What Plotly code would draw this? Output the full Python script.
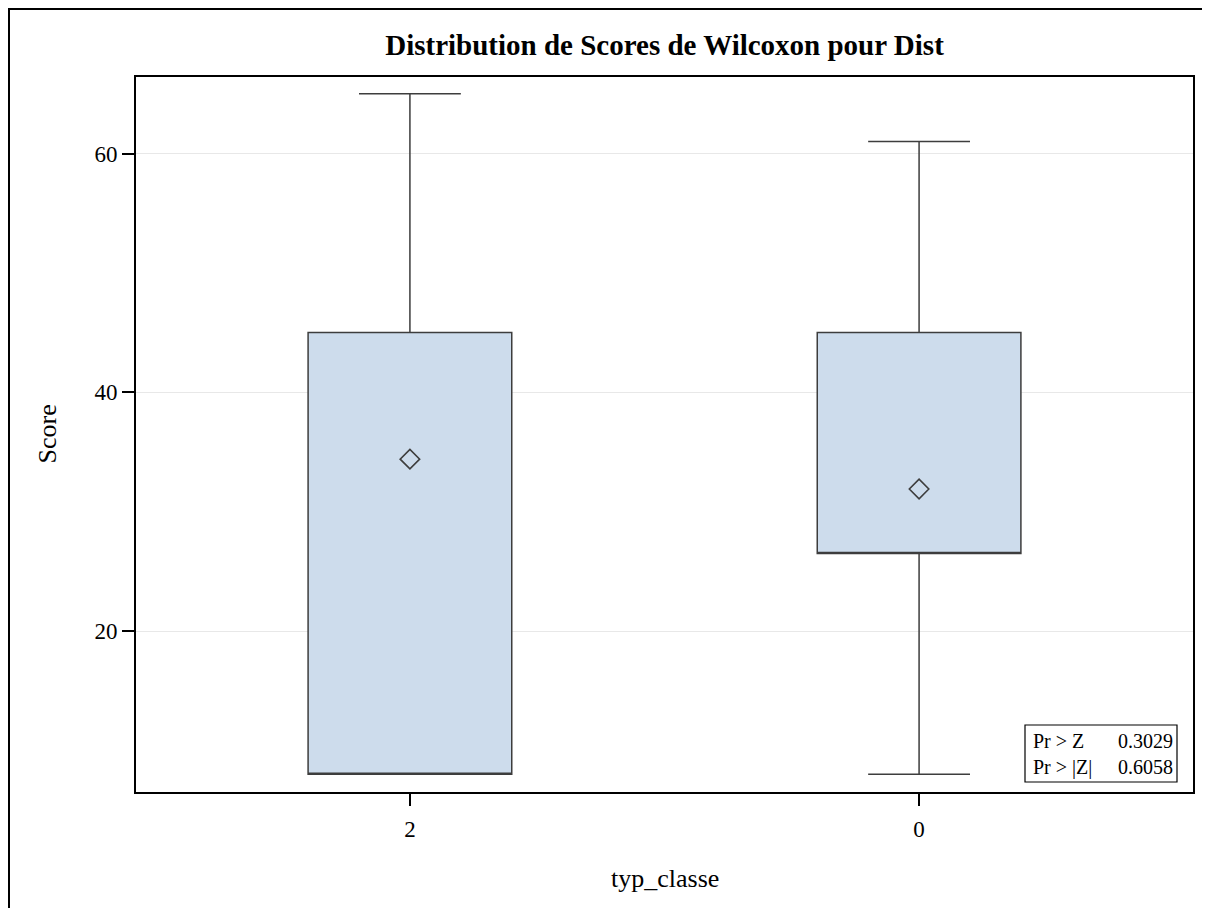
import plotly.graph_objects as go

# Data
categories = ["2", "0"]
cat_pos = [0, 1]
q1 = [8, 26.5]
median = [8, 26.5]
q3 = [45, 45]
lower_whisker = [8, 8]
upper_whisker = [65, 61]
means = [34.4, 31.9]
stat_labels = ["Pr > Z", "Pr > |Z|"]
stat_values = ["0.3029", "0.6058"]
y_ticks = [20, 40, 60]

FONT = "Liberation Serif"
LINE = "#3d3d3d"
FILL = "#cddcec"

# page offset of the plotly div (body margin)
OFF = 8
PL, PR, PT, PB = 136, 1193, 77, 792          # plot area on the page
W, H = PR - PL, PB - PT


def px(x):
    return (x - PL) / W


def py(y):
    return (PB - y) / H


fig = go.Figure()
fig.add_trace(go.Box(
    x=cat_pos, q1=q1, median=median, q3=q3,
    lowerfence=lower_whisker, upperfence=upper_whisker,
    width=0.4, whiskerwidth=0.5,
    fillcolor=FILL, line=dict(color=LINE, width=1.5),
    boxpoints=False, showlegend=False, hoverinfo="skip",
))
fig.add_trace(go.Scatter(
    x=cat_pos, y=means, mode="markers",
    marker=dict(symbol="diamond-open", size=15, color=LINE, line=dict(width=1.6, color=LINE)),
    showlegend=False, hoverinfo="skip",
))

# Outer frame
fig.add_shape(type="rect", xref="paper", yref="paper",
              x0=px(9), x1=px(1218), y0=py(925), y1=py(9),
              line=dict(color="black", width=2), layer="below")

# Inset stats box
fig.add_shape(type="rect", xref="paper", yref="paper",
              x0=px(1025), x1=px(1177), y0=py(782), y1=py(725),
              line=dict(color="black", width=1.2), fillcolor="white")
fig.add_annotation(xref="paper", yref="paper", x=px(1031), y=py(754),
                   text="<br>".join(stat_labels), align="left",
                   showarrow=False, xanchor="left", yanchor="middle",
                   font=dict(family=FONT, size=20, color="black"))
fig.add_annotation(xref="paper", yref="paper", x=px(1175), y=py(754),
                   text="<br>".join(stat_values), align="right",
                   showarrow=False, xanchor="right", yanchor="middle",
                   font=dict(family=FONT, size=20, color="black"))

# Axis titles
fig.add_annotation(xref="paper", yref="paper", x=px(47), y=0.5, text="Score",
                   textangle=-90, showarrow=False, xanchor="center", yanchor="middle",
                   font=dict(family=FONT, size=26, color="black"))
fig.add_annotation(xref="paper", yref="paper", x=0.5, y=py(878), text="typ_classe",
                   showarrow=False, xanchor="center", yanchor="middle",
                   font=dict(family=FONT, size=26, color="black"))

fig.update_layout(
    width=1210, height=908,
    margin=dict(l=PL - OFF, r=1210 - (PR - OFF), t=PT - OFF, b=908 - (PB - OFF)),
    paper_bgcolor="white", plot_bgcolor="white",
    font=dict(family=FONT, color="black"),
    title=dict(text="<b>Distribution de Scores de Wilcoxon pour Dist</b>",
               x=0.5, xref="paper", y=1 - (45 - OFF) / 908, yanchor="middle",
               font=dict(family=FONT, size=29, color="black")),
    xaxis=dict(range=[-0.538, 1.538], tickvals=cat_pos, ticktext=categories,
               showgrid=False, zeroline=False, showline=True, linecolor="black",
               linewidth=2, mirror=True, ticks="outside", ticklen=12, tickwidth=1.5,
               tickcolor="black", tickfont=dict(family=FONT, size=23),
               ticklabelstandoff=3),
    yaxis=dict(range=[6.52, 66.41], tickvals=y_ticks, showgrid=True, gridcolor="#e8e8e8",
               gridwidth=1, zeroline=False, showline=True, linecolor="black",
               linewidth=2, mirror=True, ticks="outside", ticklen=12, tickwidth=1.5,
               tickcolor="black", tickfont=dict(family=FONT, size=23),
               ticklabelstandoff=0),
)

fig.write_html("out.html")
